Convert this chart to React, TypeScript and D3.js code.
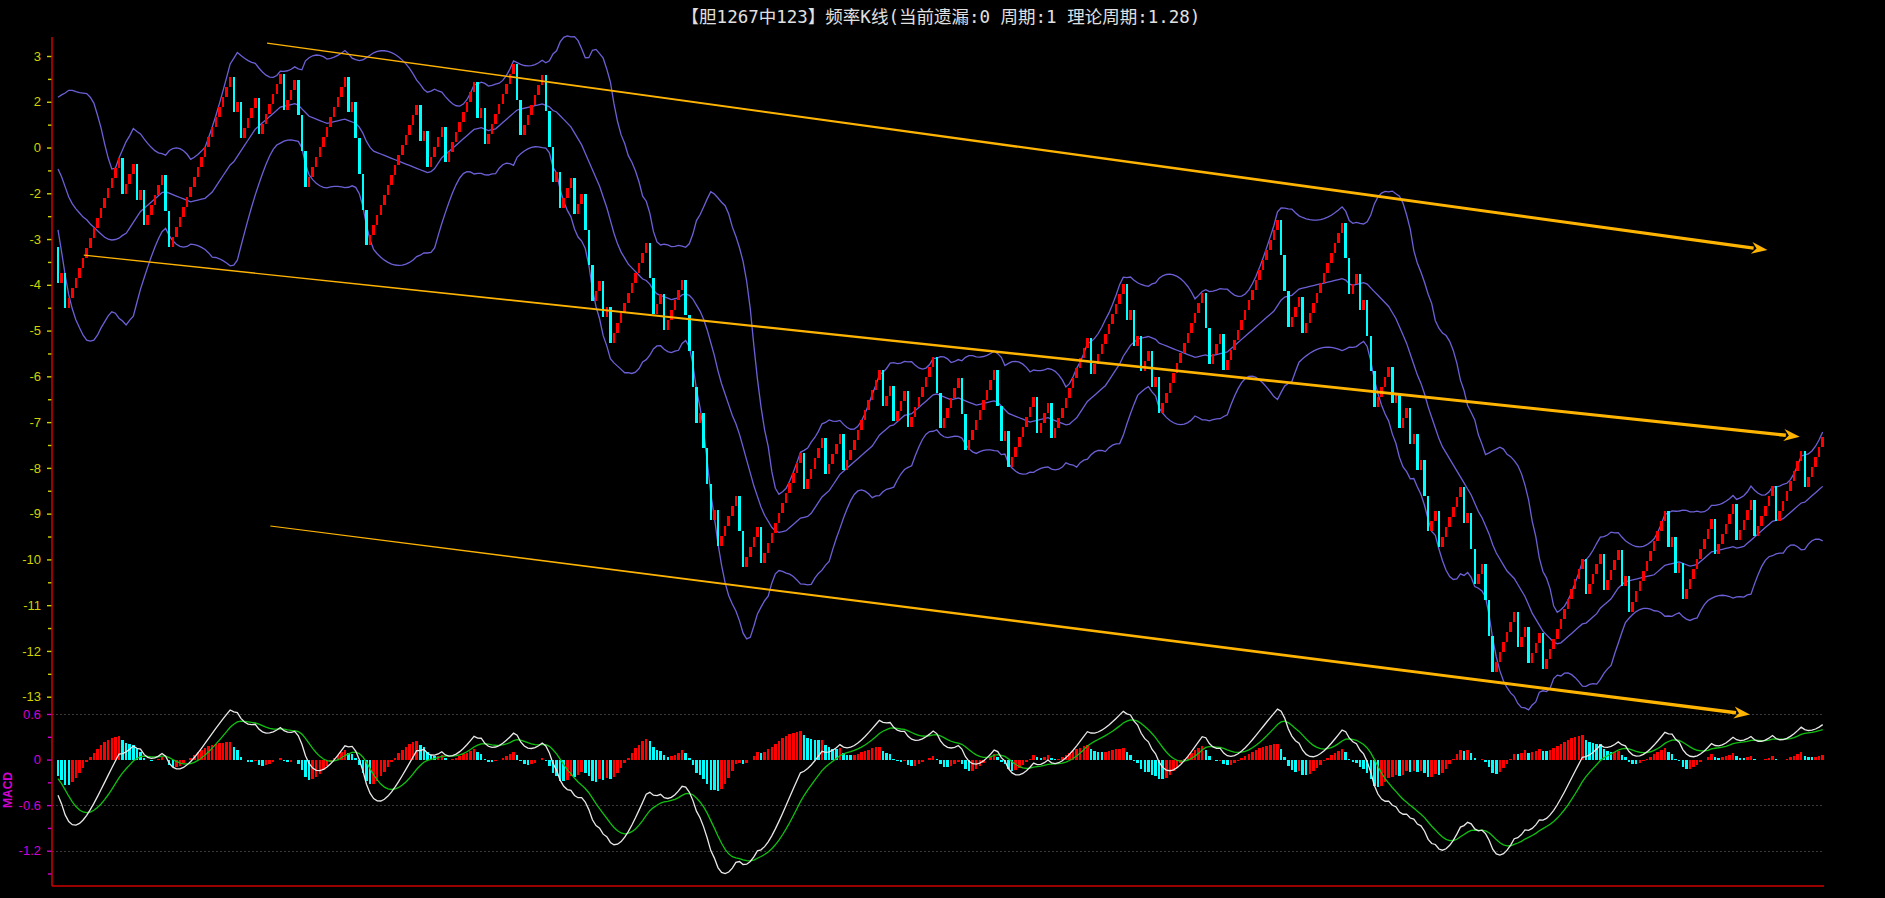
import * as d3 from "d3";
import { useEffect, useRef } from "react";

const W = 1885;
const H = 898;

// K-line steps, left to right: u = red box up, d = cyan bar down, number = repeat count
const stepsA = ["d", "u", "d", "u15", "d", "u3", "d", "u", "d", "u5", "d", "d", "u17", "d", "u", "d", "u4", "d", "u6", "d", "u3", "d3", "u11", "d", "u", "d4", "u14"];
const stepsB = ["d", "u", "d", "u4", "d", "u8", "d", "u", "d", "u8", "d2", "u6", "d3", "u", "d", "u3", "d", "u2", "d3", "u2", "d", "u", "d", "u10", "d2", "u2", "d", "u5", "d4", "u", "d3", "u", "d", "u5", "d2", "u4", "d"];
const stepsC = ["u11", "d", "u5", "d", "u4", "d", "u10", "d", "u2", "d", "u3", "d", "u7", "d2", "u5", "d2", "u8", "d2", "u", "d", "u7", "d", "u3", "d", "u10", "d", "u9", "d", "u", "d"];
const stepsD = ["u", "d", "u2", "d", "u", "d", "u12", "d2", "u3", "d", "u15", "d3", "u3", "d", "u11", "d2", "u2", "d", "u", "d3", "u4", "d", "u", "d", "u2", "d", "u", "d", "u", "d2", "u2", "d", "u6", "d", "u", "d2", "u2", "d3"];
const stepsE = ["u6", "d", "u2", "d", "u3", "d", "u11", "d", "u4", "d", "u4", "d", "u", "d", "u10", "d", "u", "d", "u", "d", "u8", "d", "u5", "d", "u4", "d", "u5", "d", "u7", "d", "u5"];

const startOpen = -1.17;
const stepUp = 0.21875;
const stepDown = 0.78125;

const priceTickLabels = ["3", "2", "0", "-2", "-3", "-4", "-5", "-6", "-7", "-8", "-9", "-10", "-11", "-12", "-13"];
const macdTickValues = [0.6, 0, -0.6, -1.2];
const macdGridValues = [0.6, -0.6, -1.2];

// first 19 BOLL values (history before the window)
const bollUpperHead = [2.1, 2.15, 2.19, 2.25, 2.25, 2.22, 2.2, 2.19, 2.18, 2.1, 1.97, 1.71, 1.43, 1.08, 0.77, 0.53, 0.55, 0.77, 0.95];
const bollMidHead = [0.53, 0.36, 0.14, -0.08, -0.23, -0.34, -0.43, -0.52, -0.58, -0.67, -0.74, -0.82, -0.89, -0.96, -1.0, -1.02, -1.01, -0.98, -0.92];
const bollLowerHead = [-0.8, -1.28, -1.79, -2.22, -2.53, -2.77, -2.94, -3.1, -3.21, -3.23, -3.21, -3.1, -2.94, -2.81, -2.68, -2.59, -2.62, -2.73, -2.79];

// MACD state at the first bar
const macdStart = { dif: -0.47, dea: -0.25, ema26: 0.6 };

// hand-drawn channel lines, in (bar index, price) units
const trendStart = [[58.3, 3.28], [7.2, -1.35], [59.2, -7.27]];
const trendEnd = [[476.6, -1.24], [485.6, -5.32], [471.7, -11.39]];

function expand(tokens: string[]) {
  const out: number[] = [];
  tokens.forEach((t) => {
    const n = t.length > 1 ? +t.slice(1) : 1;
    for (let k = 0; k < n; k++) out.push(t[0] === "u" ? 1 : -1);
  });
  return out;
}

export default function App() {
  const ref = useRef<SVGSVGElement>(null);

  useEffect(() => {
    const svg = d3.select(ref.current);
    svg.selectAll("*").remove();

    const steps = [stepsA, stepsB, stepsC, stepsD, stepsE].flatMap(expand);
    const candles: { open: number; close: number; up: boolean }[] = [];
    let level = startOpen;
    steps.forEach((s) => {
      const open = level;
      level = s > 0 ? level + stepUp : level - stepDown;
      candles.push({ open, close: level, up: s > 0 });
    });
    const closes = candles.map((c) => c.close);
    const n = candles.length;

    // BOLL(20,2)
    const upper: number[] = [], mid: number[] = [], lower: number[] = [];
    closes.forEach((_, i) => {
      if (i < 19) {
        upper.push(bollUpperHead[i]);
        mid.push(bollMidHead[i]);
        lower.push(bollLowerHead[i]);
        return;
      }
      const win = closes.slice(i - 19, i + 1);
      const m = d3.mean(win)!;
      const sd = Math.sqrt(d3.mean(win, (v) => (v - m) ** 2)!);
      mid.push(m);
      upper.push(m + 2 * sd);
      lower.push(m - 2 * sd);
    });

    // MACD(12,26,9)
    const dif: number[] = [], dea: number[] = [], bar: number[] = [];
    let ema26 = macdStart.ema26;
    let ema12 = ema26 + macdStart.dif;
    let d = macdStart.dea;
    closes.forEach((c, i) => {
      if (i > 0) {
        ema12 = (2 * c + 11 * ema12) / 13;
        ema26 = (2 * c + 25 * ema26) / 27;
      }
      const df = ema12 - ema26;
      if (i > 0) d = (2 * df + 8 * d) / 10;
      dif.push(df);
      dea.push(d);
      bar.push(df - d);
    });

    const x = d3.scaleLinear().domain([0, n - 1]).range([58, 1822.7]);
    const y = d3.scaleLinear().domain([3, -11]).range([56, 696.7]);
    const ym = d3.scaleLinear().domain([0.6, -1.2]).range([714, 850.7]);
    const left = 52, right = 1824, bottom = 886;

    svg.append("rect").attr("width", W).attr("height", H).attr("fill", "#000");

    // title
    svg
      .append("text")
      .attr("x", 941)
      .attr("y", 23)
      .attr("text-anchor", "middle")
      .attr("fill", "#e0e0e0")
      .style("font-family", "'DejaVu Sans Mono', 'Noto Sans CJK SC', monospace")
      .style("font-size", "17.5px")
      .text("【胆1267中123】频率K线(当前遗漏:0 周期:1 理论周期:1.28)");

    // price axis
    const major = d3.range(0, priceTickLabels.length).map((i) => 3 - i);
    const minor = d3.range(0, priceTickLabels.length - 1).map((i) => 2.5 - i);
    const ya = svg
      .append("g")
      .attr("transform", `translate(${left},0)`)
      .call(
        d3
          .axisLeft(y)
          .tickValues(major)
          .tickSize(5)
          .tickPadding(6)
          .tickFormat((_, i) => priceTickLabels[i])
      );
    const yb = svg
      .append("g")
      .attr("transform", `translate(${left},0)`)
      .call(d3.axisLeft(y).tickValues(minor).tickSize(4).tickFormat(() => ""));
    [ya, yb].forEach((g) => {
      g.select(".domain").remove();
      g.selectAll("line").attr("stroke", "#d2d200").attr("stroke-width", 1.4);
      g.selectAll("text")
        .attr("fill", "#d2d200")
        .style("font-family", "'Liberation Sans', Arial, sans-serif")
        .style("font-size", "13px");
    });

    // macd axis
    const ma = svg
      .append("g")
      .attr("transform", `translate(${left},0)`)
      .call(
        d3
          .axisLeft(ym)
          .tickValues(macdTickValues)
          .tickSize(5)
          .tickPadding(6)
          .tickFormat((v) => String(v))
      );
    const mb = svg
      .append("g")
      .attr("transform", `translate(${left},0)`)
      .call(d3.axisLeft(ym).tickValues([0.3, -0.3, -0.9, -1.5]).tickSize(4).tickFormat(() => ""));
    [ma, mb].forEach((g) => {
      g.select(".domain").remove();
      g.selectAll("line").attr("stroke", "#d400d4").attr("stroke-width", 1.4);
      g.selectAll("text")
        .attr("fill", "#d400d4")
        .style("font-family", "'Liberation Sans', Arial, sans-serif")
        .style("font-size", "13px");
    });
    svg
      .append("text")
      .attr("transform", `translate(12,790) rotate(-90)`)
      .attr("text-anchor", "middle")
      .attr("fill", "#d400d4")
      .style("font-family", "'Liberation Sans', Arial, sans-serif")
      .style("font-size", "12px")
      .style("font-weight", "bold")
      .text("MACD");

    svg
      .append("g")
      .selectAll("line")
      .data(macdGridValues)
      .join("line")
      .attr("x1", left)
      .attr("x2", right)
      .attr("y1", (v) => Math.round(ym(v)) + 0.5)
      .attr("y2", (v) => Math.round(ym(v)) + 0.5)
      .attr("stroke", "#3a3a3a")
      .attr("stroke-dasharray", "2 2");

    // BOLL lines
    const line = d3
      .line<number>()
      .x((_, i) => x(i))
      .y((v) => y(v));
    [upper, mid, lower].forEach((s) => {
      svg
        .append("path")
        .attr("d", line(s))
        .attr("fill", "none")
        .attr("stroke", "#6b60d6")
        .attr("stroke-width", 1.3);
    });

    // candles
    const bw = 2.5;
    svg
      .append("g")
      .attr("shape-rendering", "crispEdges")
      .selectAll("rect")
      .data(candles)
      .join("rect")
      .attr("x", (_, i) => x(i) - bw / 2)
      .attr("width", bw)
      .attr("y", (c) => y(Math.max(c.open, c.close)))
      .attr("height", (c) => Math.abs(y(c.open) - y(c.close)))
      .attr("fill", (c) => (c.up ? "#ff0000" : "#00ffff"));

    // MACD bars
    svg
      .append("g")
      .attr("shape-rendering", "crispEdges")
      .selectAll("rect")
      .data(bar)
      .join("rect")
      .attr("x", (_, i) => x(i) - bw / 2)
      .attr("width", bw)
      .attr("y", (v) => Math.min(ym(v), ym(0)))
      .attr("height", (v) => Math.abs(ym(v) - ym(0)))
      .attr("fill", (v, i) => (i > 0 && v >= bar[i - 1] ? "#ff0000" : "#00ffff"));

    const mline = d3
      .line<number>()
      .x((_, i) => x(i))
      .y((v) => ym(v));
    svg.append("path").attr("d", mline(dea)).attr("fill", "none").attr("stroke", "#10c010").attr("stroke-width", 1.3);
    svg.append("path").attr("d", mline(dif)).attr("fill", "none").attr("stroke", "#e8e8e8").attr("stroke-width", 1.3);

    // channel lines with arrow heads, thickening to the right
    trendStart.forEach((s, k) => {
      const e = trendEnd[k];
      const x1 = x(s[0]), y1 = y(s[1]), x2 = x(e[0]), y2 = y(e[1]);
      const len = Math.hypot(x2 - x1, y2 - y1);
      const ux = (x2 - x1) / len, uy = (y2 - y1) / len;
      const px = -uy, py = ux;
      const head = 14;
      const bx = x2 - ux * head, by = y2 - uy * head;
      const w1 = 0.6, w2 = 1.7;
      const body = [
        [x1 + px * w1, y1 + py * w1],
        [bx + px * w2, by + py * w2],
        [bx - px * w2, by - py * w2],
        [x1 - px * w1, y1 - py * w1],
      ];
      svg.append("path").attr("d", "M" + body.join("L") + "Z").attr("fill", "#ffb400");
      const tip = [
        [x2, y2],
        [bx + px * 6 - ux * 2, by + py * 6 - uy * 2],
        [bx + ux * 3, by + uy * 3],
        [bx - px * 6 - ux * 2, by - py * 6 - uy * 2],
      ];
      svg.append("path").attr("d", "M" + tip.join("L") + "Z").attr("fill", "#ffb400");
    });

    // frame
    svg.append("line").attr("x1", left).attr("x2", left).attr("y1", 37).attr("y2", bottom).attr("stroke", "#cc0000").attr("stroke-width", 1.5);
    svg.append("line").attr("x1", left).attr("x2", right).attr("y1", bottom).attr("y2", bottom).attr("stroke", "#cc0000").attr("stroke-width", 1.5);
  }, []);

  return (
    <div style={{ position: "fixed", left: 0, top: 0, width: W, height: H, background: "#000" }}>
      <svg ref={ref} width={W} height={H} />
    </div>
  );
}
